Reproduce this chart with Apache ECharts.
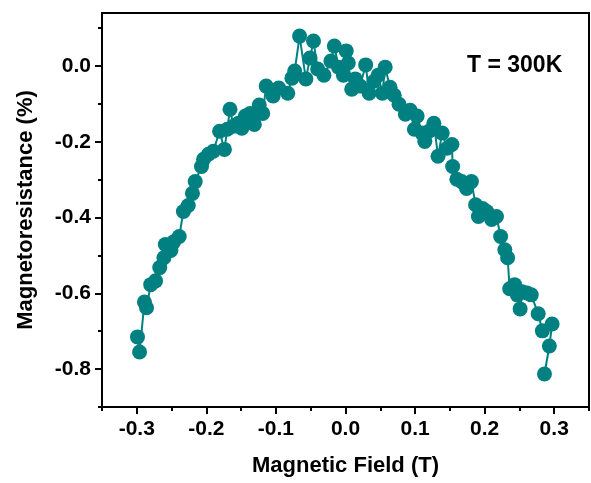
<!DOCTYPE html>
<html><head><meta charset="utf-8">
<script src="https://cdn.jsdelivr.net/npm/echarts@6/dist/echarts.min.js"></script>
<style>html,body{margin:0;padding:0;background:#fff}#c{width:591px;height:483px}</style>
</head><body><div id="c"></div>
<script>
const fieldT = [-0.299,-0.296,-0.289,-0.286,-0.280,-0.273,-0.267,-0.261,-0.259,-0.251,-0.247,-0.239,-0.233,-0.226,-0.220,-0.216,-0.207,-0.204,-0.197,-0.190,-0.181,-0.174,-0.170,-0.166,-0.161,-0.154,-0.149,-0.144,-0.137,-0.131,-0.124,-0.119,-0.114,-0.104,-0.096,-0.083,-0.077,-0.073,-0.066,-0.057,-0.051,-0.046,-0.040,-0.031,-0.021,-0.016,-0.010,-0.003,0.001,0.004,
0.009,0.014,0.021,0.029,0.034,0.041,0.047,0.053,0.057,0.064,0.070,0.077,0.086,0.093,0.099,0.103,0.110,0.114,0.120,0.127,0.133,0.139,0.146,0.153,0.154,0.160,0.167,0.174,0.181,0.187,0.191,0.197,0.203,0.210,0.217,0.223,0.229,0.233,0.236,0.243,0.247,0.251,0.254,0.261,0.267,0.277,0.283,0.297,0.293,0.286];
const mrPct = [-0.715,-0.755,-0.623,-0.638,-0.577,-0.567,-0.532,-0.506,-0.471,-0.487,-0.464,-0.450,-0.384,-0.368,-0.336,-0.305,-0.265,-0.246,-0.233,-0.225,-0.172,-0.220,-0.167,-0.114,-0.159,-0.151,-0.164,-0.132,-0.125,-0.154,-0.103,-0.125,-0.053,-0.079,-0.058,-0.072,-0.032,-0.013,0.079,-0.034,0.021,0.066,-0.008,-0.024,0.013,0.053,-0.003,-0.024,0.040,0.008,
-0.061,-0.034,-0.053,0.003,-0.072,-0.040,-0.024,-0.072,-0.003,-0.056,-0.077,-0.101,-0.127,-0.117,-0.167,-0.132,-0.177,-0.199,-0.172,-0.151,-0.238,-0.177,-0.217,-0.207,-0.265,-0.299,-0.305,-0.323,-0.305,-0.366,-0.397,-0.376,-0.384,-0.405,-0.397,-0.450,-0.485,-0.506,-0.588,-0.577,-0.604,-0.641,-0.596,-0.599,-0.604,-0.654,-0.699,-0.681,-0.739,-0.813];
const xMajor = [-0.3,-0.2,-0.1,0,0.1,0.2,0.3];
const xMinor = [-0.35,-0.25,-0.15,-0.05,0.05,0.15,0.25,0.35];
const yMajor = [-0.8,-0.6,-0.4,-0.2,0];
const yMinor = [-0.9,-0.7,-0.5,-0.3,-0.1,0.1];
const annotation = 'T = 300K';

const FONT = 'Liberation Sans, Arial, sans-serif';
const chart = echarts.init(document.getElementById('c'));
const data = fieldT.map((x,i)=>[x, mrPct[i]]);
const lbl = {fontFamily: FONT, fontWeight:'bold', fontSize:21, color:'#000'};
const XR = {min:-0.35, max:0.35}, YR = {min:-0.9, max:0.14};
function tickAxis(range, pos, vals, len){
  return Object.assign({type:'value', position:pos,
    axisLine:{show:false, onZero:false},
    axisTick:{show:true, customValues:vals, length:len, lineStyle:{color:'#000', width:2}},
    axisLabel:{show:false}, splitLine:{show:false}}, range);
}
chart.setOption({
  animation:false,
  grid:{left:102, right:2, top:13, bottom:76, show:true, borderColor:'#000', borderWidth:2, backgroundColor:'transparent'},
  xAxis:[Object.assign({
    type:'value', position:'bottom',
    name:'Magnetic Field (T)', nameLocation:'middle', nameGap:48,
    nameTextStyle:{fontFamily:FONT, fontWeight:'bold', fontSize:22, color:'#000'},
    axisLine:{show:true, onZero:false, lineStyle:{color:'#000', width:2}},
    axisTick:{show:false},
    axisLabel:{customValues:xMajor, margin:12, formatter:v=>v.toFixed(1), ...lbl},
    splitLine:{show:false}
  }, XR), tickAxis(XR, 'bottom', xMajor, 7), tickAxis(XR, 'bottom', xMinor, 4)],
  yAxis:[Object.assign({
    type:'value', position:'left',
    name:'Magnetoresistance (%)', nameLocation:'middle', nameGap:65, nameRotate:90,
    nameTextStyle:{fontFamily:FONT, fontWeight:'bold', fontSize:22, color:'#000'},
    axisLine:{show:true, onZero:false, lineStyle:{color:'#000', width:2}},
    axisTick:{show:false},
    axisLabel:{customValues:yMajor, margin:11, formatter:v=>v.toFixed(1), ...lbl},
    splitLine:{show:false}
  }, YR), tickAxis(YR, 'left', yMajor, 7), tickAxis(YR, 'left', yMinor, 4)],
  graphic:[{type:'text', left:467, top:54, style:{text:annotation, font:'bold 23px '+FONT, fill:'#000'}}],
  series:[{
    type:'line', xAxisIndex:0, yAxisIndex:0, data:data,
    symbol:'circle', symbolSize:15, showAllSymbol:true,
    lineStyle:{color:'#008080', width:2}, itemStyle:{color:'#008080'}
  }]
});
</script></body></html>
